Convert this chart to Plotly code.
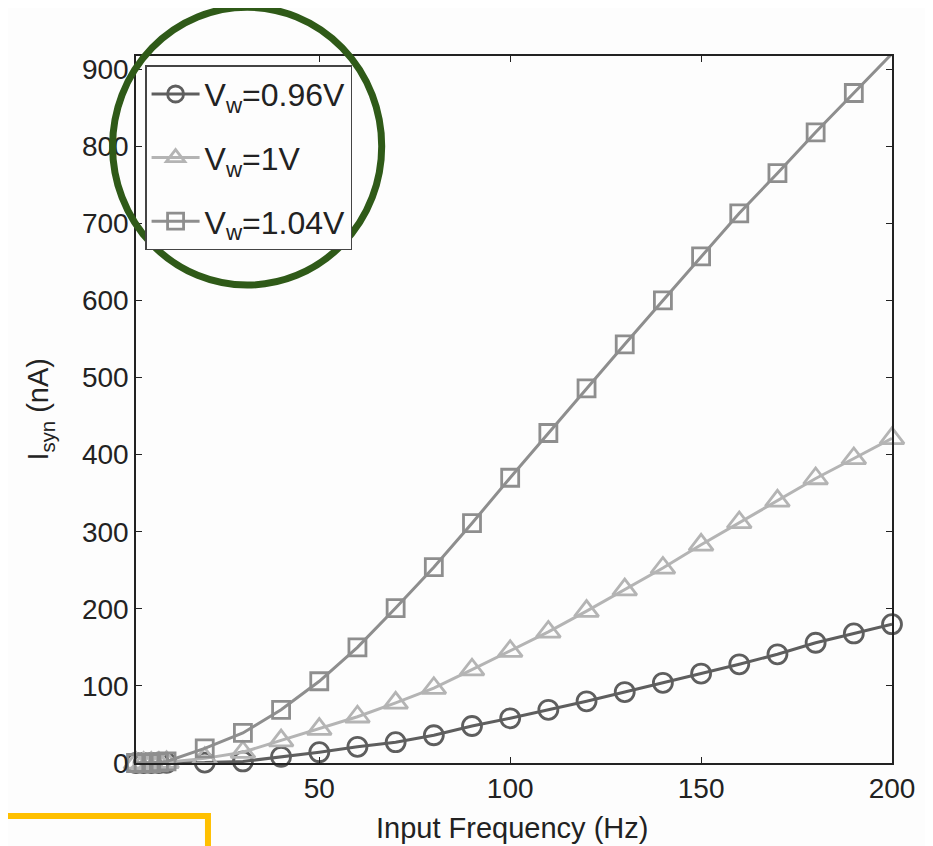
import plotly.graph_objects as go

freq = [2, 4, 6, 8, 10, 20, 30, 40, 50, 60, 70, 80, 90, 100, 110, 120, 130, 140, 150, 160, 170, 180, 190, 200]
i_096 = [0, 0, 0, 0, 0.2, 0.5, 2, 8, 14, 21, 27, 36, 48, 58, 69, 80, 92, 104, 116, 128, 141, 156, 168, 180]
i_100 = [0, 0, 0, 0, 1, 6, 14, 29, 44, 60, 78, 97, 121, 145, 170, 197, 225, 253, 283, 312, 340, 369, 395, 421]
i_104 = [0, 0, 0, 1, 2, 19, 39, 69, 106, 150, 201, 254, 311, 370, 428, 486, 543, 600, 657, 713, 765, 818, 869, 920]

series_names = ["V<sub>w</sub>=0.96V", "V<sub>w</sub>=1V", "V<sub>w</sub>=1.04V"]
series_vals = [i_096, i_100, i_104]
colors = ["#5e5e5e", "#b4b4b4", "#8e8e8e"]
symbols = ["circle-open", "triangle-up-open", "square-open"]
msizes = [19, 21, 17]

x_ticks = [50, 100, 150, 200]
y_ticks = [0, 100, 200, 300, 400, 500, 600, 700, 800, 900]

FONT = "Liberation Sans, Arial, sans-serif"

fig = go.Figure()
for i, (name, vals) in enumerate(zip(series_names, series_vals)):
    fig.add_trace(go.Scatter(
        x=freq, y=vals, name=name, mode="lines+markers",
        line=dict(color=colors[i], width=3),
        marker=dict(symbol=symbols[i], size=msizes[i], color=colors[i],
                    line=dict(width=2.8, color=colors[i])),
        cliponaxis=False, legendgroup=f"g{i}",
    ))

# page body has an 8px margin, so the figure sits at (8, 8)
L, R, T, B = 128, 49, 48, 91
W, H = 933, 846

fig.update_layout(
    width=W, height=H,
    margin=dict(l=L, r=R, t=T, b=B),
    paper_bgcolor="#fdfdfd", plot_bgcolor="#fdfdfd",
    font=dict(family=FONT, size=28, color="#222222"),
    showlegend=True,
    legend=dict(
        x=0.012, y=0.987, xanchor="left", yanchor="top",
        bgcolor="#fdfdfd", bordercolor="#444444", borderwidth=1.5,
        font=dict(family=FONT, size=32, color="#222222"),
        tracegroupgap=19, itemwidth=48,
    ),
    xaxis=dict(
        range=[2, 200], tickvals=x_ticks, ticks="inside", ticklen=6,
        tickcolor="#222222", showline=True, linecolor="#222222", linewidth=1.5,
        mirror="allticks", showgrid=False, zeroline=False,
        tickfont=dict(size=28),
    ),
    yaxis=dict(
        range=[0, 917], tickvals=y_ticks, ticks="inside", ticklen=6,
        tickcolor="#222222", showline=True, linecolor="#222222", linewidth=1.5,
        mirror="allticks", showgrid=False, zeroline=False,
        tickfont=dict(size=28),
    ),
    annotations=[
        dict(text="Input Frequency (Hz)", xref="paper", yref="paper",
             x=0.498, y=-0.092, xanchor="center", yanchor="middle",
             showarrow=False, font=dict(size=29)),
        dict(text="I<sub>syn</sub> (nA)", xref="paper", yref="paper",
             x=-0.127, y=0.50, xanchor="center", yanchor="middle",
             textangle=-90, showarrow=False, font=dict(size=29)),
    ],
    shapes=[
        dict(type="circle", xref="paper", yref="paper",
             x0=-0.031, x1=0.325, y0=0.676, y1=1.069,
             line=dict(color="#2f5a18", width=7)),
        dict(type="rect", xref="paper", yref="paper",
             x0=-0.25, x1=0.0952, y0=-0.30, y1=-0.075,
             line=dict(color="#ffc000", width=6)),
    ],
)

fig.write_html("out.html")
